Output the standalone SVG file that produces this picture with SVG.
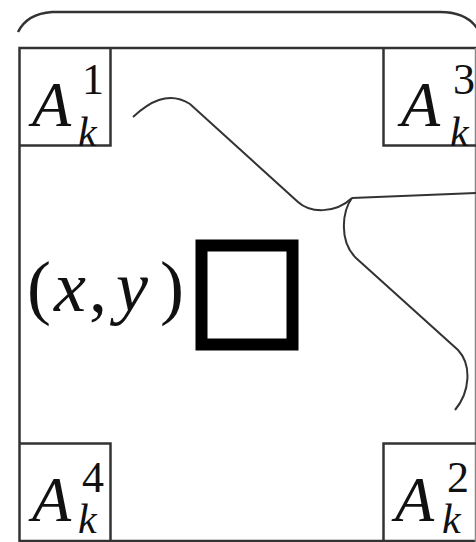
<svg xmlns="http://www.w3.org/2000/svg" width="476" height="542" viewBox="0 0 476 542">
<style>
.ln{fill:none;stroke:#333;stroke-width:2.5}
.cv{fill:none;stroke:#333;stroke-width:2}
text{font-family:'Liberation Serif','Times New Roman',serif;fill:#111}
.A{font-style:italic;font-size:64px}
.sup{font-size:44px}
.sub{font-style:italic;font-size:42px}
.m{font-size:72px}
.mi{font-style:italic}
</style>
<rect width="476" height="542" fill="#fff"/>
<g id="brace">
<path class="ln" d="M18,32 C24,20 36,13 52,12 L440,12 C458,12 470,18 477,28" stroke-width="2"/>
</g>
<g id="frame">
<path class="ln" d="M19.5,542 L19.5,48 L476,48"/>
<path class="ln" d="M19,541 L476,541"/>
<line x1="475.5" y1="48" x2="475.5" y2="542" stroke="#888" stroke-width="1.5"/>
</g>
<g id="A1">
<path class="ln" d="M110.5,48 L110.5,145.5 L19.5,145.5"/>
<text class="A" x="32" y="126">A</text>
<text class="sup" x="82" y="94">1</text>
<text class="sub" x="78" y="146">k</text>
</g>
<g id="A3">
<path class="ln" d="M383.5,48 L383.5,145.5 L476,145.5"/>
<text class="A" x="401" y="126">A</text>
<text class="sup" x="453" y="94">3</text>
<text class="sub" x="450" y="146">k</text>
</g>
<g id="A4">
<path class="ln" d="M19.5,443.5 L110.5,443.5 L110.5,542"/>
<text class="A" x="32" y="521">A</text>
<text class="sup" x="82" y="492">4</text>
<text class="sub" x="78" y="533">k</text>
</g>
<g id="A2">
<path class="ln" d="M476,443.5 L383.5,443.5 L383.5,542"/>
<text class="A" x="395" y="521">A</text>
<text class="sup" x="447" y="492">2</text>
<text class="sub" x="442" y="533">k</text>
</g>
<g id="point">
<text class="m" y="311"><tspan x="27">(</tspan><tspan x="54" class="mi">x</tspan><tspan x="89">,</tspan><tspan x="116" class="mi">y</tspan><tspan x="160">)</tspan></text>
<rect x="201.5" y="245.5" width="91" height="99" fill="none" stroke="#000" stroke-width="12"/>
</g>
<g id="connectors">
<path class="cv" d="M133,117 C148,103 168,90 190,104 L298,202 C310,213 335,214 352,198"/>
<path class="cv" d="M352,198 L476,193"/>
<path class="cv" d="M352,198 C343,210 338,240 356,258 L458,350 C472,365 470,392 455,410"/>
</g>
</svg>
